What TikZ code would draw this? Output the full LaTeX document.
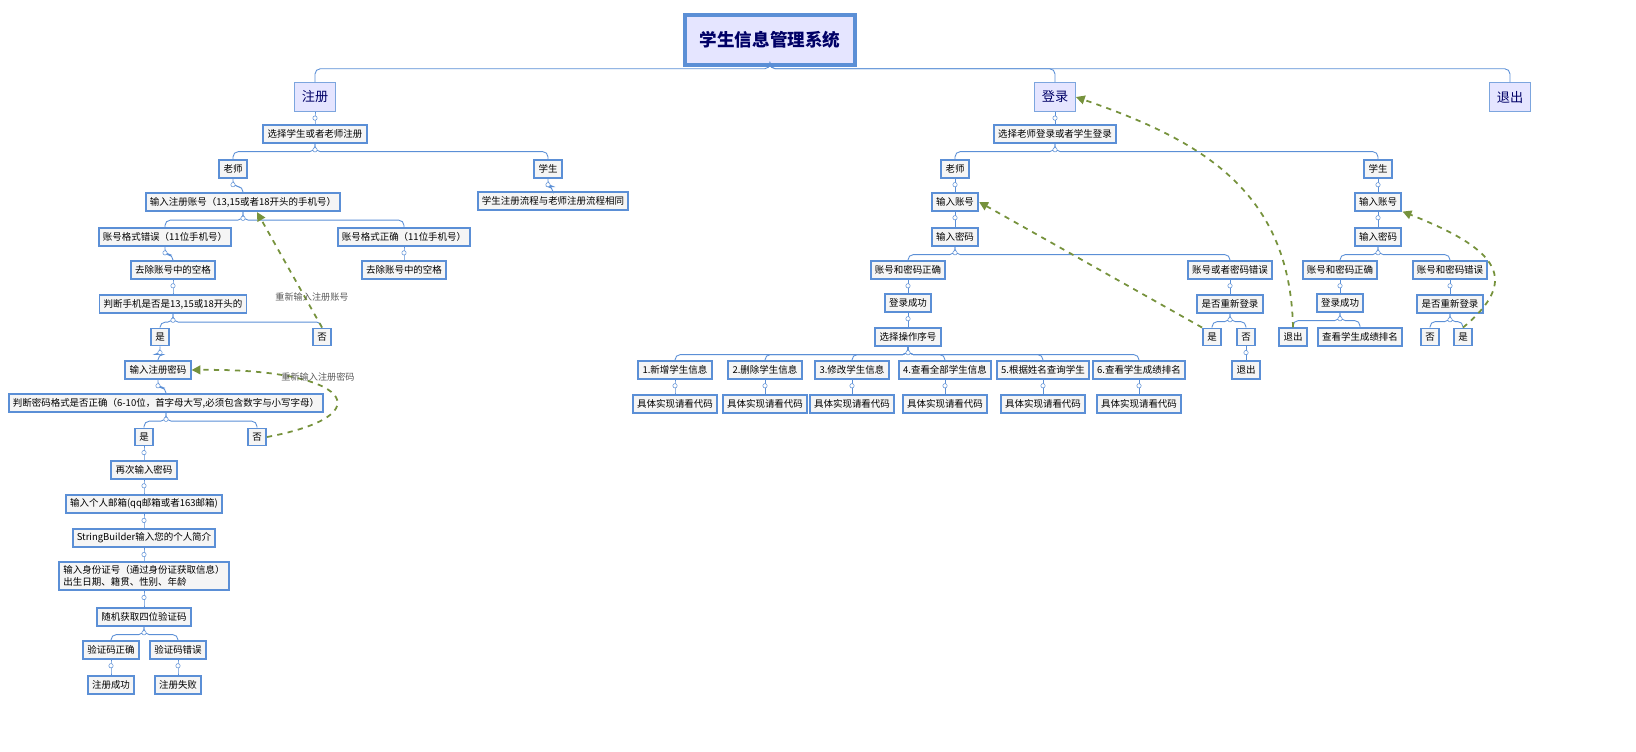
\documentclass[tikz,border=0pt]{standalone}
\usepackage{fontspec}
\setmainfont{Noto Sans CJK SC}
\usetikzlibrary{arrows.meta}
\definecolor{boxblue}{HTML}{5B8FD6}
\definecolor{linkgreen}{HTML}{76923C}
\tikzset{
  item/.style={draw=boxblue, line width=1.1pt, fill=gray!8, inner xsep=3pt, inner sep=2.4pt,
    minimum height=0.34cm, font=\fontsize{5.4}{6.5}\selectfont},
  topic/.style={draw=boxblue!80, line width=0.5pt, fill=blue!10, minimum height=0.58cm,
    minimum width=0.82cm, font=\fontsize{7.5}{9}\selectfont, text=blue!40!black},
  tree/.style={draw=boxblue, line width=0.5pt, rounded corners=3pt},
  back/.style={draw=linkgreen, dashed, line width=1pt, -{Triangle[length=5pt,width=5pt]}},
  backlabel/.style={font=\fontsize{5.2}{6.5}\itshape, text=gray!70!black}
}
\newcommand{\branch}[2]{%
  \foreach \c in {#2}{\draw[tree] (#1.south) -- ++(0,8) -| (\c.north);}
  \draw[boxblue, fill=white, line width=0.3pt] ([yshift=-3.5]#1.south) circle (2.2);}
\begin{document}
\begin{tikzpicture}[x=0.02cm, y=-0.02cm]
\useasboundingbox (0,0) rectangle (1636,751);

% root and main topics
\node[draw=boxblue, line width=2pt, fill=blue!10, minimum width=3.4cm, minimum height=1cm,
  font=\fontsize{10}{12}\bfseries, text=blue!40!black] (r0) at (770,40) {学生信息管理系统};
\node[topic] (reg) at (315,97) {注册};
\node[topic] (log) at (1055,97) {登录};
\node[topic] (ext) at (1510,97) {退出};
\foreach \c in {reg,log,ext}{\draw[tree] (r0.south) -- ++(0,2) -| (\c.north);}

% register
\node[item] (rsel) at (315,134) {选择学生或者老师注册};
\node[item] (rtea) at (233,169) {老师};
\node[item] (rstu) at (548,169) {学生};
\node[item] (racc) at (243,202) {输入注册账号（13,15或者18开头的手机号）};
\node[item] (rsame) at (553,201) {学生注册流程与老师注册流程相同};
\node[item] (rerr) at (165,237) {账号格式错误（11位手机号）};
\node[item] (rok) at (404,237) {账号格式正确（11位手机号）};
\node[item] (rtrim1) at (173,270) {去除账号中的空格};
\node[item] (rtrim2) at (404,270) {去除账号中的空格};
\node[item] (rchk) at (173,304) {判断手机是否是13,15或18开头的};
\node[item] (ryes1) at (160,337) {是};
\node[item] (rno1) at (322,337) {否};
\node[item] (rpwd) at (158,370) {输入注册密码};
\node[item] (rfmt) at (166,403) {判断密码格式是否正确（6-10位，首字母大写,必须包含数字与小写字母）};
\node[item] (ryes2) at (144,437) {是};
\node[item] (rno2) at (257,437) {否};
\node[item] (ragain) at (144,470) {再次输入密码};
\node[item] (rmail) at (144,504) {输入个人邮箱(qq邮箱或者163邮箱)};
\node[item] (rintro) at (144,538) {StringBuilder输入您的个人简介};
\node[item, align=left] (rid) at (144,576) {输入身份证号（通过身份证获取信息）\\出生日期、籍贯、性别、年龄};
\node[item] (rcode) at (144,617) {随机获取四位验证码};
\node[item] (rcok) at (111,650) {验证码正确};
\node[item] (rcerr) at (178,650) {验证码错误};
\node[item] (rsucc) at (111,685) {注册成功};
\node[item] (rfail) at (178,685) {注册失败};

\branch{reg}{rsel}
\branch{rsel}{rtea,rstu}
\branch{rtea}{racc}
\branch{rstu}{rsame}
\branch{racc}{rerr,rok}
\branch{rerr}{rtrim1}
\branch{rok}{rtrim2}
\branch{rtrim1}{rchk}
\branch{rchk}{ryes1,rno1}
\branch{ryes1}{rpwd}
\branch{rpwd}{rfmt}
\branch{rfmt}{ryes2,rno2}
\branch{ryes2}{ragain}
\branch{ragain}{rmail}
\branch{rmail}{rintro}
\branch{rintro}{rid}
\branch{rid}{rcode}
\branch{rcode}{rcok,rcerr}
\branch{rcok}{rsucc}
\branch{rcerr}{rfail}

% login, teacher
\node[item] (lsel) at (1055,134) {选择老师登录或者学生登录};
\node[item] (ltea) at (955,169) {老师};
\node[item] (lstu) at (1378,169) {学生};
\node[item] (lacc) at (955,202) {输入账号};
\node[item] (lpwd) at (955,237) {输入密码};
\node[item] (lok) at (908,270) {账号和密码正确};
\node[item] (lerr) at (1230,270) {账号或者密码错误};
\node[item] (lsucc) at (908,303) {登录成功};
\node[item] (lop) at (908,337) {选择操作序号};
\foreach \i/\x/\t in {1/675/1.新增学生信息, 2/765/2.删除学生信息, 3/852/3.修改学生信息,
    4/945/4.查看全部学生信息, 5/1043/5.根据姓名查询学生, 6/1139/6.查看学生成绩排名}{
  \node[item] (op\i) at (\x,370) {\t};
  \node[item] (code\i) at (\x,404) {具体实现请看代码};
  \branch{op\i}{code\i}
}
\node[item] (lre) at (1230,304) {是否重新登录};
\node[item] (lyes) at (1212,337) {是};
\node[item] (lno) at (1246,337) {否};
\node[item] (lexit) at (1246,370) {退出};

\branch{log}{lsel}
\branch{lsel}{ltea,lstu}
\branch{ltea}{lacc}
\branch{lacc}{lpwd}
\branch{lpwd}{lok,lerr}
\branch{lok}{lsucc}
\branch{lsucc}{lop}
\branch{lop}{op1,op2,op3,op4,op5,op6}
\branch{lerr}{lre}
\branch{lre}{lyes,lno}
\branch{lno}{lexit}

% login, student
\node[item] (sacc) at (1378,202) {输入账号};
\node[item] (spwd) at (1378,237) {输入密码};
\node[item] (sok) at (1340,270) {账号和密码正确};
\node[item] (serr) at (1450,270) {账号和密码错误};
\node[item] (ssucc) at (1340,303) {登录成功};
\node[item] (sre) at (1450,304) {是否重新登录};
\node[item] (sexit) at (1293,337) {退出};
\node[item] (srank) at (1360,337) {查看学生成绩排名};
\node[item] (sno) at (1430,337) {否};
\node[item] (syes) at (1463,337) {是};

\branch{lstu}{sacc}
\branch{sacc}{spwd}
\branch{spwd}{sok,serr}
\branch{sok}{ssucc}
\branch{ssucc}{sexit,srank}
\branch{serr}{sre}
\branch{sre}{sno,syes}

% go back links
\draw[back] (rno1.north) -- ([xshift=8]racc.south);
\node[backlabel] (lbl1) at (312,297) {重新输入注册账号};
\draw[back] (rno2.east) .. controls (385,415) and (350,368) .. (rpwd.east);
\node[backlabel] (lbl2) at (318,377) {重新输入注册密码};
\draw[back] (lyes.north west) -- (lacc.east);
\draw[back] (sexit.north) .. controls (1290,190) and (1200,140) .. (log.east);
\draw[back] (syes.north) .. controls (1520,280) and (1500,250) .. ([xshift=14]sacc.south);
\end{tikzpicture}
\end{document}
